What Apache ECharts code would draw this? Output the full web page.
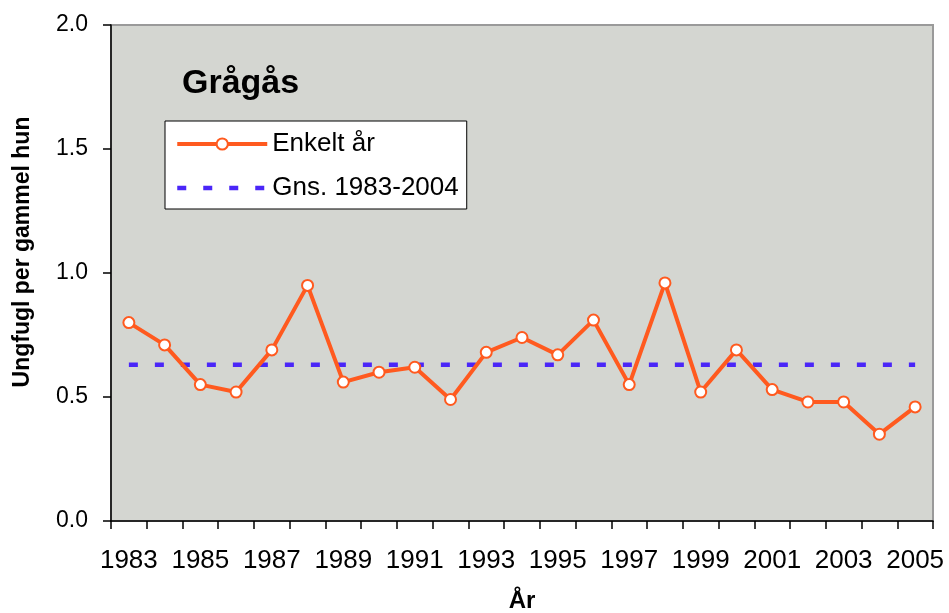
<!DOCTYPE html>
<html>
<head>
<meta charset="utf-8">
<script src="https://cdn.jsdelivr.net/npm/echarts@6/dist/echarts.min.js"></script>
<style>
  html, body { margin: 0; padding: 0; background: #fff; }
  #chart { width: 949px; height: 613px; }
</style>
</head>
<body>
<div id="chart"></div>
<script>
// år
const years = ['1983', '1984', '1985', '1986', '1987', '1988', '1989', '1990', '1991', '1992', '1993', '1994',
  '1995', '1996', '1997', '1998', '1999', '2000', '2001', '2002', '2003', '2004', '2005']
// ungfugl per gammel hun, enkelt år
const enkeltAar = [0.80, 0.71, 0.55, 0.52, 0.69, 0.95, 0.56, 0.60, 0.62, 0.49, 0.68, 0.74,
  0.67, 0.81, 0.55, 0.96, 0.52, 0.69, 0.53, 0.48, 0.48, 0.35, 0.46]
// gennemsnit 1983-2004
const gennemsnit = [0.63, 0.63, 0.63, 0.63, 0.63, 0.63, 0.63, 0.63, 0.63, 0.63, 0.63, 0.63,
  0.63, 0.63, 0.63, 0.63, 0.63, 0.63, 0.63, 0.63, 0.63, 0.63, 0.63]
const yTicks = [0, 0.5, 1.0, 1.5, 2.0]

const font = 'Liberation Sans, Arial, sans-serif'
const orange = '#FF5A1F'
const blue = '#4A26F8'

const chart = echarts.init(document.getElementById('chart'))
chart.setOption({
  animation: false,
  textStyle: { fontFamily: font },
  title: {
    text: 'Grågås',
    left: 177,
    top: 62,
    textStyle: { fontSize: 34, fontWeight: 'bold', color: '#000', fontFamily: font },
  },
  legend: {
    orient: 'vertical',
    left: 165,
    top: 121,
    padding: [10, 8, 8, 10],
    itemWidth: 90,
    itemHeight: 14,
    itemGap: 18,
    backgroundColor: '#fff',
    borderColor: '#000',
    borderWidth: 1,
    borderRadius: 0,
    textStyle: { fontSize: 26, color: '#000', fontFamily: font },
    data: [
      {
        name: 'Enkelt år',
        lineStyle: { color: orange, width: 4 },
        itemStyle: { color: '#fff', borderColor: orange, borderWidth: 2 },
      },
      {
        name: 'Gns. 1983-2004',
        lineStyle: { color: blue, width: 4.5, type: [9, 17] },
        itemStyle: { color: 'transparent', borderColor: 'transparent', borderWidth: 0, opacity: 0 },
      },
    ],
  },
  grid: {
    show: true,
    left: 111,
    right: 16,
    top: 25,
    bottom: 92,
    outerBoundsMode: 'none',
    containLabel: false,
    backgroundColor: '#D4D6D1',
    borderColor: '#9a9a9a',
    borderWidth: 2,
  },
  // x-akse
  xAxis: {
    type: 'category',
    data: years,
    boundaryGap: true,
    axisLine: { lineStyle: { color: '#000', width: 1.5 } },
    axisTick: { show: true, interval: 0, length: 8, lineStyle: { color: '#000', width: 1.5 } },
    axisLabel: { interval: 1, fontSize: 26, color: '#000', margin: 27, fontFamily: font },
    splitLine: { show: false },
    name: 'År',
    nameLocation: 'middle',
    nameGap: 68,
    nameTextStyle: { fontSize: 24, fontWeight: 'bold', color: '#000', fontFamily: font },
  },
  // y-akse
  yAxis: {
    type: 'value',
    min: yTicks[0],
    max: yTicks[yTicks.length - 1],
    interval: 0.5,
    axisLine: { show: true, lineStyle: { color: '#000', width: 1.5 } },
    axisTick: { show: true, length: 8, lineStyle: { color: '#000', width: 1.5 } },
    axisLabel: {
      fontSize: 23,
      color: '#000',
      margin: 23,
      fontFamily: font,
      formatter: (v) => v.toFixed(1),
    },
    splitLine: { show: false },
  },
  graphic: [
    {
      type: 'text',
      x: 23,
      y: 252,
      rotation: Math.PI / 2,
      style: {
        text: 'Ungfugl per gammel hun',
        fontSize: 23,
        fontWeight: 'bold',
        fontFamily: font,
        fill: '#000',
        align: 'center',
        verticalAlign: 'middle',
      },
    },
  ],
  series: [
    {
      name: 'Enkelt år',
      type: 'line',
      data: enkeltAar,
      color: orange,
      lineStyle: { color: orange, width: 4 },
      symbol: 'circle',
      symbolSize: 11,
      showAllSymbol: true,
      itemStyle: { color: '#fff', borderColor: orange, borderWidth: 2 },
      z: 3,
    },
    {
      name: 'Gns. 1983-2004',
      type: 'line',
      data: gennemsnit,
      color: blue,
      symbol: 'none',
      lineStyle: { color: blue, width: 4.5, type: [9, 17] },
      z: 2,
    },
  ],
})
</script>
</body>
</html>
